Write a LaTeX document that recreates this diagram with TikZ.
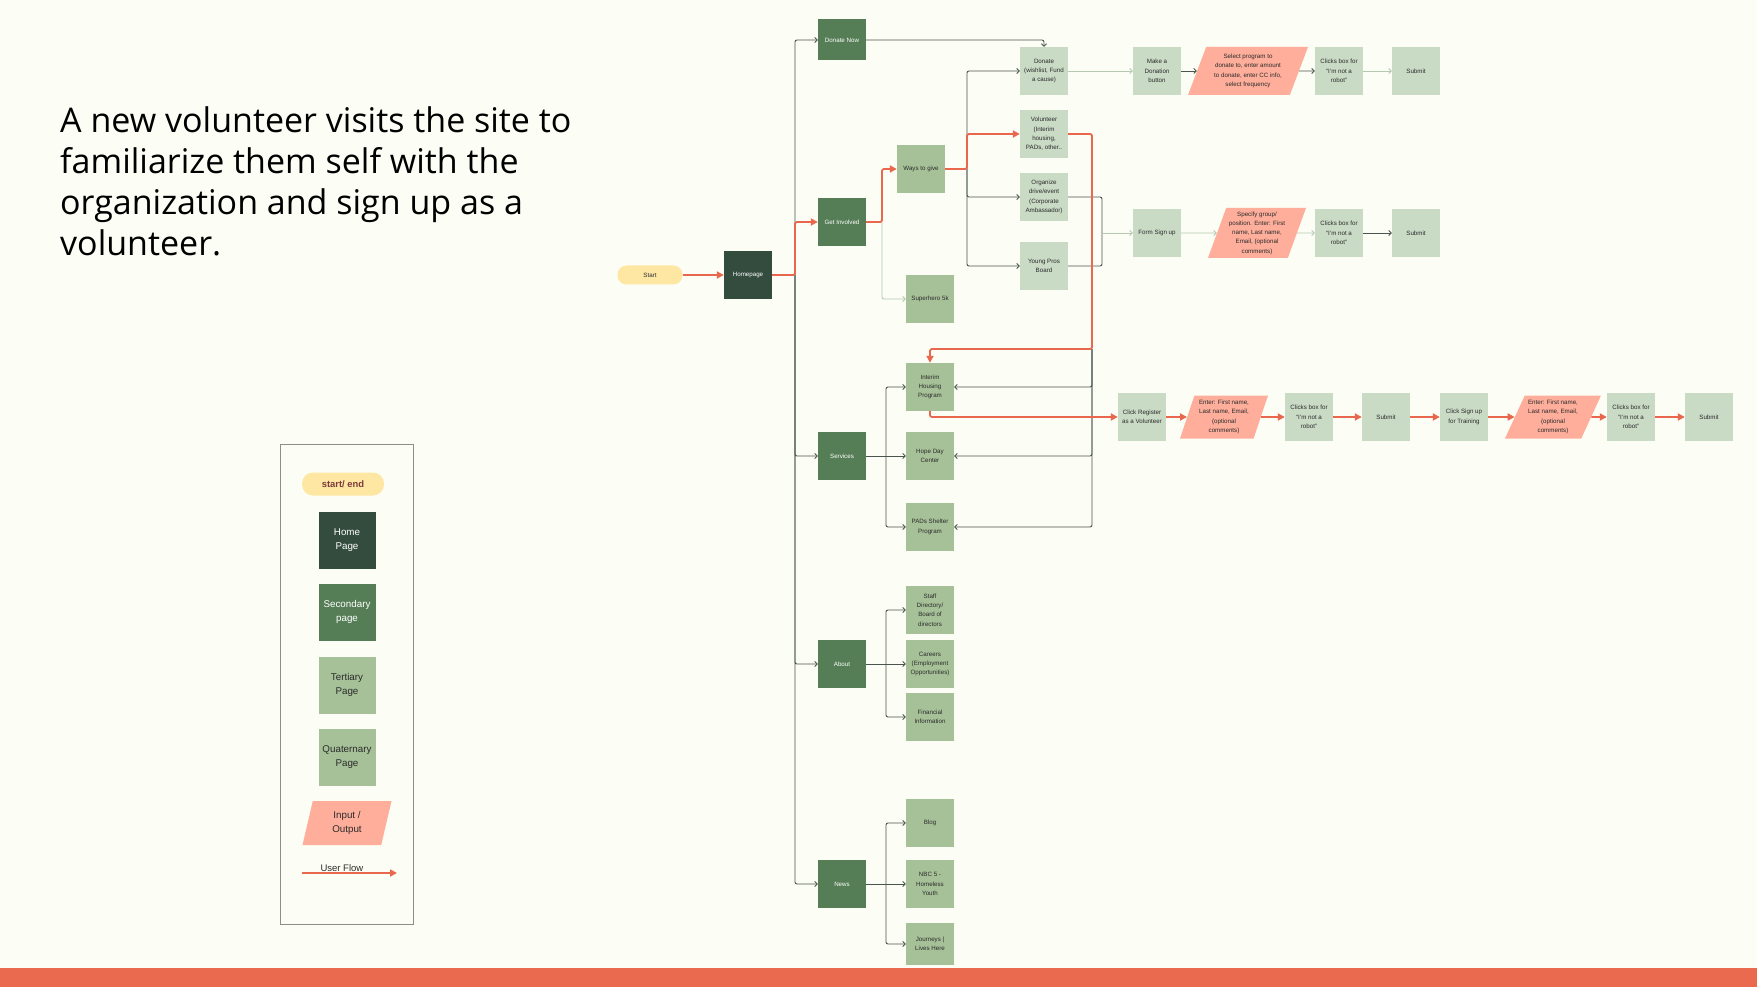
\documentclass[tikz,border=0pt]{standalone}
\usepackage{fontspec}
\setmainfont{Liberation Sans}
\newfontfamily\titlefont{Open Sans}
\usepackage{tikz}
\usetikzlibrary{shapes.geometric,arrows.meta}

\definecolor{bgcol}{HTML}{FCFDF4}
\definecolor{barcol}{HTML}{E96A4F}
\definecolor{homecol}{HTML}{344C3E}
\definecolor{seccol}{HTML}{557E56}
\definecolor{tercol}{HTML}{A6C198}
\definecolor{quacol}{HTML}{C9DAC5}
\definecolor{iocol}{HTML}{FEAE9B}
\definecolor{startcol}{HTML}{FEE7A3}
\definecolor{starttxt}{HTML}{7D3B3B}
\definecolor{flowcol}{HTML}{E8674D}
\definecolor{linecol}{HTML}{4A5550}
\definecolor{lightcol}{HTML}{B5C9B0}
\definecolor{txtcol}{HTML}{2B2B2B}
\definecolor{framecol}{HTML}{8A8F8A}

\tikzset{
    page/.style={minimum width=48pt, minimum height=48pt, inner sep=1pt, align=center,
        text=txtcol, font=\fontsize{6.2}{9.3}\selectfont},
    homepg/.style={page, fill=homecol, text=white},
    secpg/.style={page, fill=seccol, text=white},
    terpg/.style={page, fill=tercol},
    quapg/.style={page, fill=quacol},
    iobox/.style={trapezium, trapezium left angle=65, trapezium right angle=115,
        trapezium stretches body=true, fill=iocol, minimum height=48pt, inner sep=1pt,
        align=center, text=txtcol, font=\fontsize{6.2}{9.3}\selectfont},
    startbox/.style={rectangle, rounded corners=9pt, fill=startcol, minimum width=65pt,
        minimum height=19pt, text=txtcol, font=\fontsize{6.2}{9.3}\selectfont},
    link/.style={draw=linecol, line width=0.9pt, rounded corners=2pt,
        -{Straight Barb[length=2.5pt,width=5pt]}},
    linklight/.style={link, draw=lightcol},
    userflow/.style={draw=flowcol, line width=1.8pt, rounded corners=2pt,
        -{Triangle[length=7pt,width=7pt]}},
    legendfont/.style={font=\fontsize{9.8}{14.3}\selectfont}
}

\begin{document}
\begin{tikzpicture}[x=1pt, y=-1pt]
    % Background
    \fill[bgcol] (0,0) rectangle (1757,987);
    \fill[barcol] (0,968) rectangle (1757,987);

    % Title
    \node[anchor=north west, inner sep=0, align=left, text=black,
        font=\titlefont\fontsize{34}{41}\selectfont] (title) at (60,106)
        {A new volunteer visits the site to\\familiarize them self with the\\organization and sign up as a\\volunteer.};

    % Legend
    \draw[framecol, line width=0.8pt] (280,444) rectangle (413,924);
    \node[startbox, minimum width=82pt, minimum height=23pt, rounded corners=11pt,
        font=\bfseries\fontsize{9.4}{12}\selectfont, text=starttxt] (lstart) at (343,484) {start/ end};
    \node[homepg, legendfont, minimum width=57pt, minimum height=57pt] (lhome) at (347,540) {Home\\Page};
    \node[secpg, legendfont, minimum width=57pt, minimum height=57pt] (lsec) at (347,612) {Secondary\\page};
    \node[terpg, legendfont, minimum width=57pt, minimum height=57pt] (lter) at (347,685) {Tertiary\\Page};
    \node[terpg, legendfont, minimum width=57pt, minimum height=57pt] (lqua) at (347,757) {Quaternary\\Page};
    \node[iobox, legendfont, trapezium left angle=68, trapezium right angle=112,
        minimum width=89pt, minimum height=44pt] (lio) at (347,823) {Input /\\Output};
    \coordinate (lflowa) at (302,873);
    \coordinate (lflowb) at (397,873);
    \draw[userflow] (lflowa) -- (lflowb)
        node[pos=0.42, above, inner sep=0.5pt, font=\fontsize{9.5}{11}\selectfont, text=txtcol] {User Flow};

    % Main pages
    \node[startbox] (start) at (650,275) {Start};
    \node[homepg] (home) at (748,275) {Homepage};
    \node[secpg, minimum height=41pt] (donatenow) at (842,40) {Donate Now};
    \node[secpg] (getinv) at (842,222) {Get Involved};
    \node[secpg] (services) at (842,456) {Services};
    \node[secpg] (about) at (842,664) {About};
    \node[secpg] (news) at (842,884) {News};

    % Get Involved branch
    \node[terpg] (ways) at (921,169) {Ways to give};
    \node[terpg] (superhero) at (930,299) {Superhero 5k};
    \node[quapg] (donate) at (1044,71) {Donate\\(wishlist, Fund\\a cause)};
    \node[quapg] (volunteer) at (1044,134) {Volunteer\\(Interim\\housing,\\PADs, other..};
    \node[quapg] (organize) at (1044,197) {Organize\\drive/event\\(Corporate\\Ambassador)};
    \node[quapg] (youngpros) at (1044,266) {Young Pros\\Board};

    % Donation row
    \node[quapg] (makedon) at (1157,71) {Make a\\Donation\\button};
    \node[iobox, trapezium left angle=63, trapezium right angle=117, minimum width=120pt] (selectprog) at (1248,71)
        {Select program to\\donate to, enter amount\\to donate, enter CC info,\\select frequency};
    \node[quapg] (clicks1) at (1339,71) {Clicks box for\\“I'm not a\\robot”};
    \node[quapg] (submit1) at (1416,71) {Submit};

    % Sign up row
    \node[quapg] (formsign) at (1157,233) {Form Sign up};
    \node[iobox, trapezium left angle=68, trapezium right angle=112, minimum width=98pt, minimum height=50pt] (specify) at (1257,233)
        {Specify group/\\position. Enter: First\\name, Last name,\\Email, (optional\\comments)};
    \node[quapg] (clicks2) at (1339,233) {Clicks box for\\“I'm not a\\robot”};
    \node[quapg] (submit2) at (1416,233) {Submit};

    % Services branch
    \node[terpg] (interim) at (930,387) {Interim\\Housing\\Program};
    \node[terpg] (hopeday) at (930,456) {Hope Day\\Center};
    \node[terpg] (pads) at (930,527) {PADs Shelter\\Program};

    % Volunteer row
    \node[quapg] (register) at (1142,417) {Click Register\\as a Volunteer};
    \node[iobox, trapezium left angle=68, trapezium right angle=112, minimum width=88pt, minimum height=43pt] (enter1) at (1224,417)
        {Enter: First name,\\Last name, Email,\\(optional\\comments)};
    \node[quapg] (clicks3) at (1309,417) {Clicks box for\\“I'm not a\\robot”};
    \node[quapg] (submit3) at (1386,417) {Submit};
    \node[quapg] (training) at (1464,417) {Click Sign up\\for Training};
    \node[iobox, trapezium left angle=61, trapezium right angle=119, minimum width=96pt, minimum height=43pt] (enter2) at (1553,417)
        {Enter: First name,\\Last name, Email,\\(optional\\comments)};
    \node[quapg] (clicks4) at (1631,417) {Clicks box for\\“I'm not a\\robot”};
    \node[quapg] (submit4) at (1709,417) {Submit};

    % About and News branches
    \node[terpg] (staff) at (930,610) {Staff\\Directory/\\Board of\\directors};
    \node[terpg] (careers) at (930,664) {Careers\\(Employment\\Opportunities)};
    \node[terpg] (financial) at (930,717) {Financial\\Information};
    \node[terpg] (blog) at (930,823) {Blog};
    \node[terpg] (nbc) at (930,884) {NBC 5 -\\Homeless\\Youth};
    \node[terpg, minimum height=42pt] (journeys) at (930,944) {Journeys |\\Lives Here};

    % Junctions
    \coordinate (trunk) at (795,275);
    \coordinate (gjoin) at (882,222);
    \coordinate (wjoin) at (967,169);
    \coordinate (fjoin) at (1102,233);
    \coordinate (vturn) at (1092,349);
    \coordinate (sjoin) at (886,456);
    \coordinate (ajoin) at (886,664);
    \coordinate (njoin) at (886,884);

    % Site map links
    \draw[link] (trunk) |- (donatenow.west);
    \draw[link] (trunk) |- (services.west);
    \draw[link] (trunk) |- (about.west);
    \draw[link] (trunk) |- (news.west);
    \draw[link] (donatenow.east) -| (donate.north);
    \draw[linklight] (gjoin) |- (superhero.west);
    \draw[link] (wjoin) |- (donate.west);
    \draw[link] (wjoin) |- (organize.west);
    \draw[link] (wjoin) |- (youngpros.west);
    \draw[link, -] (organize.east) -| (fjoin);
    \draw[link, -] (youngpros.east) -| (fjoin);
    \draw[linklight] (fjoin) -- (formsign.west);
    \draw[link] (vturn) |- (interim.east);
    \draw[link] (vturn) |- (hopeday.east);
    \draw[link] (vturn) |- (pads.east);
    \draw[link] (services.east) -- (hopeday.west);
    \draw[link] (sjoin) |- (interim.west);
    \draw[link] (sjoin) |- (pads.west);
    \draw[link] (about.east) -- (careers.west);
    \draw[link] (ajoin) |- (staff.west);
    \draw[link] (ajoin) |- (financial.west);
    \draw[link] (news.east) -- (nbc.west);
    \draw[link] (njoin) |- (blog.west);
    \draw[link] (njoin) |- (journeys.west);

    % Form rows
    \draw[linklight] (donate) -- (makedon);
    \draw[link] (makedon) -- (selectprog);
    \draw[link] (selectprog) -- (clicks1);
    \draw[linklight] (clicks1) -- (submit1);
    \draw[linklight] (formsign) -- (specify);
    \draw[linklight] (specify) -- (clicks2);
    \draw[link] (clicks2) -- (submit2);

    % User flow
    \draw[userflow] (start) -- (home);
    \draw[userflow] (home.east) -- (trunk) |- (getinv.west);
    \draw[userflow] (getinv.east) -- (gjoin) |- (ways.west);
    \draw[userflow] (ways.east) -- (wjoin) |- (volunteer.west);
    \draw[userflow] (volunteer.east) -| (vturn) -| (interim.north);
    \draw[userflow] (interim.south) |- (register.west);
    \foreach \a/\b in {register/enter1, enter1/clicks3, clicks3/submit3, submit3/training,
        training/enter2, enter2/clicks4, clicks4/submit4} {
        \draw[userflow] (\a) -- (\b);
    }
\end{tikzpicture}
\end{document}
